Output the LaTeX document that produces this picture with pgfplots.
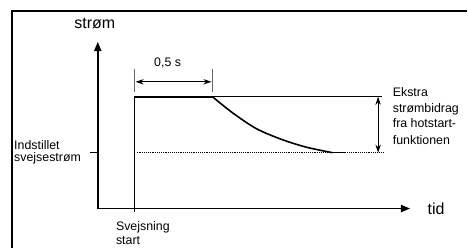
\documentclass[border=0pt]{standalone}
\usepackage{pgfplots}
\pgfplotsset{compat=1.18}
\usepackage{fontspec}
\setmainfont{Liberation Sans}
\usetikzlibrary{arrows.meta}
\begin{document}
\begin{tikzpicture}
\begin{axis}[
  scale only axis, width=351pt, height=186.75pt,
  xmin=0, xmax=468, ymin=0, ymax=249, y dir=reverse,
  hide axis, clip=false,
]
% invisible full-area extent
\addplot[draw=none] coordinates {(0,0) (468,249)};
% frame (top and left)
\addplot[black, line width=1.6pt] coordinates {(12,249) (12,11) (468,11)};
% axes
\addplot[black, line width=1.2pt, -{Triangle[length=7pt,width=5.5pt]}] coordinates {(98,209) (98,42)};
\addplot[black, line width=1.2pt, -{Triangle[length=7pt,width=5.5pt]}] coordinates {(98,209) (411,209)};
% y tick
\addplot[black, line width=0.8pt] coordinates {(90,153) (98,153)};
% set current (dotted)
\addplot[black, line width=0.4pt, densely dotted] coordinates {(137,153) (385,153)};
% current curve
\addplot[black, line width=1.2pt] coordinates {(135,212) (135,97) (213,97)};
\addplot[black, line width=1.2pt, smooth, tension=0.5] coordinates {(213,97) (233,113) (257,129) (283,140) (307,147.5) (333,153)};
\addplot[black, line width=1.2pt] coordinates {(333,153) (346,153)};
% top reference line
\addplot[black, line width=1.0pt] coordinates {(213,96.5) (383,96.5)};
% double arrow extra current
\addplot[black, line width=0.6pt, {Stealth[length=6pt,width=4pt]}-{Stealth[length=6pt,width=4pt]}] coordinates {(379,97) (379,153)};
% dimension 0,5 s
\addplot[black!60, line width=0.6pt] coordinates {(135,69) (135,92)};
\addplot[black!60, line width=0.6pt] coordinates {(213,69) (213,92)};
\addplot[black, line width=0.6pt, {Stealth[length=6pt,width=4pt]}-{Stealth[length=6pt,width=4pt]}] coordinates {(136,82) (212,82)};
% texts
\node[anchor=base, font=\fontsize{12}{14}\selectfont] at (axis cs:95,28.5) {strøm};
\node[anchor=base west, font=\fontsize{12}{14}\selectfont] at (axis cs:424,215) {tid};
\node[anchor=base, font=\fontsize{9.3}{11}\selectfont] at (axis cs:168,66.5) {0,5 s};
\node[anchor=base west, font=\fontsize{9.3}{11}\selectfont, inner xsep=0pt] at (axis cs:393.5,97) {Ekstra};
\node[anchor=base west, font=\fontsize{9.3}{11}\selectfont, inner xsep=0pt] at (axis cs:393.5,112.5) {strømbidrag};
\node[anchor=base west, font=\fontsize{9.3}{11}\selectfont, inner xsep=0pt] at (axis cs:393.5,128) {fra hotstart-};
\node[anchor=base west, font=\fontsize{9.3}{11}\selectfont, inner xsep=0pt] at (axis cs:393.5,144.5) {funktionen};
\node[anchor=base west, font=\fontsize{9.3}{11}\selectfont, inner xsep=0pt] at (axis cs:14,149.5) {Indstillet};
\node[anchor=base west, font=\fontsize{9.3}{11}\selectfont, inner xsep=0pt] at (axis cs:14,161.5) {svejsestrøm};
\node[anchor=base west, font=\fontsize{9.3}{11}\selectfont, inner xsep=0pt] at (axis cs:116,231.5) {Svejsning};
\node[anchor=base west, font=\fontsize{9.3}{11}\selectfont, inner xsep=0pt] at (axis cs:116,245.5) {start};
\end{axis}
\end{tikzpicture}
\end{document}
